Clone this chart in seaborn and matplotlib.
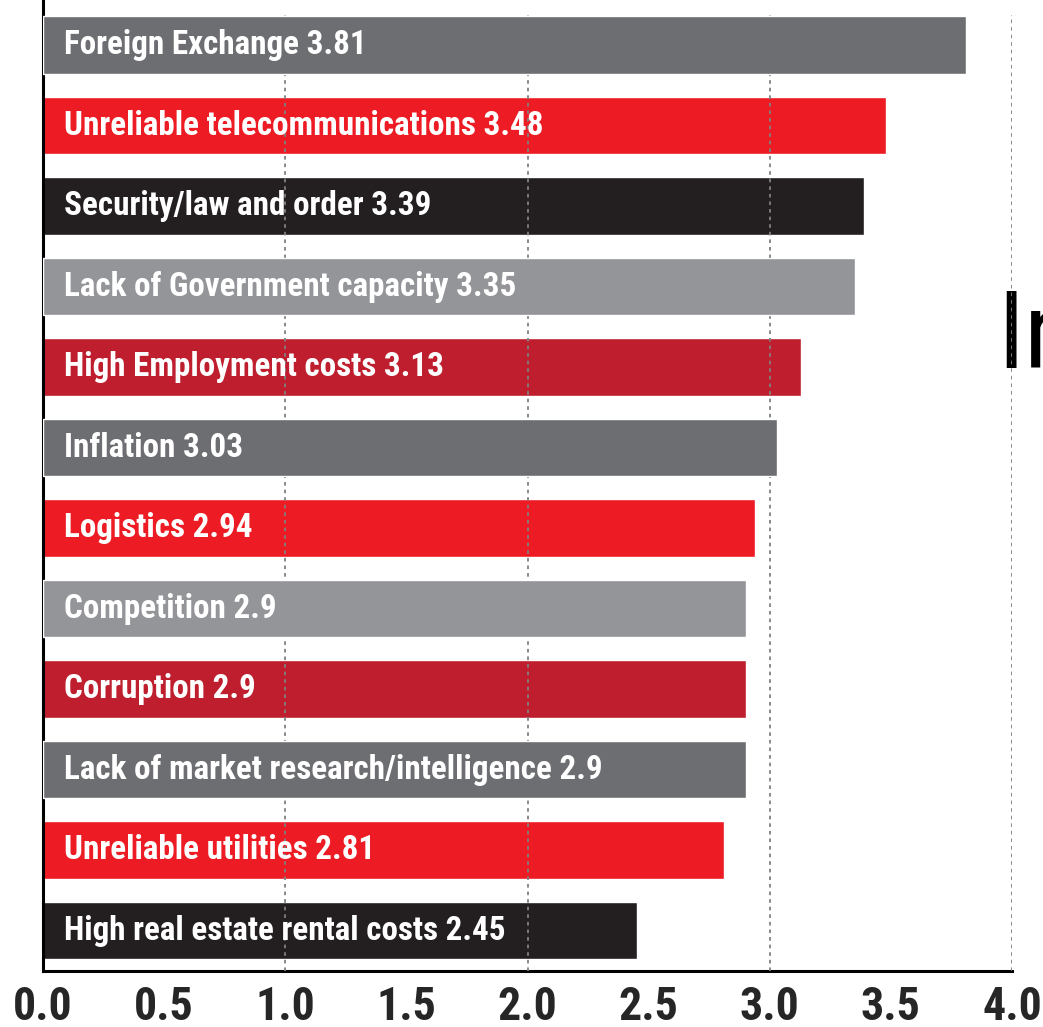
import matplotlib
matplotlib.use("Agg")
import matplotlib.pyplot as plt
import seaborn as sns
import pandas as pd

# Data
labels = ["Foreign Exchange", "Unreliable telecommunications", "Security/law and order",
          "Lack of Government capacity", "High Employment costs", "Inflation", "Logistics",
          "Competition", "Corruption", "Lack of market research/intelligence",
          "Unreliable utilities", "High real estate rental costs"]
values = [3.81, 3.48, 3.39, 3.35, 3.13, 3.03, 2.94, 2.9, 2.9, 2.9, 2.81, 2.45]
colors = ["#6d6e71", "#ed1c24", "#231f20", "#939598", "#be1e2d", "#6d6e71",
          "#ed1c24", "#939598", "#be1e2d", "#6d6e71", "#ed1c24", "#231f20"]
xticks = [0.0, 0.5, 1.0, 1.5, 2.0, 2.5, 3.0, 3.5, 4.0]
grid_x = [1.0, 2.0, 3.0, 4.0]
greys = {"#6d6e71", "#939598"}

df = pd.DataFrame({"label": labels, "value": values})

sns.set_style("white")
fam = ["Roboto Condensed", "Liberation Sans Narrow", "DejaVu Sans"]
plt.rcParams["font.family"] = fam
plt.rcParams["font.stretch"] = "condensed"

fig = plt.figure(figsize=(10.43, 10.27), dpi=100)
ax = fig.add_axes([43 / 1043, 56 / 1027, 969 / 1043, 971 / 1027])

sns.barplot(data=df, x="value", y="label", hue="label", palette=colors,
            legend=False, width=0.72, ax=ax, saturation=1, orient="h")

# grey bars sit above the dotted grid, the others below it
for p, c in zip(ax.patches, colors):
    p.set_zorder(4 if c in greys else 1)

# fit label size so the labels are about as wide as in the reference
renderer = fig.canvas.get_renderer()
probe = ax.text(0, 0, f"{labels[0]} {values[0]:g}", fontsize=22, fontweight="bold")
w = probe.get_window_extent(renderer).width
probe.remove()
lab_fs = 22 * 303 / w

for i, (lab, v) in enumerate(zip(labels, values)):
    ax.text(0.087, i, f"{lab} {v:g}", color="white", fontsize=lab_fs,
            fontweight="bold", va="center", ha="left", zorder=5)

for g in grid_x:
    ax.axvline(g, ymax=0.985, color="#808080", lw=1.3, ls=(0, (2, 2.2)), zorder=3)

ax.set_xlim(0, 4)
ax.set_ylim(11.503, -0.559)
ax.set_xticks(xticks)
ax.set_xticklabels([f"{t:.1f}" for t in xticks], fontsize=33, fontweight="bold")
ax.set_yticks([])
ax.set_xlabel("")
ax.set_ylabel("")
ax.tick_params(axis="x", direction="in", length=16.5, width=1.5, color="black", pad=10)
for s in ["top", "right"]:
    ax.spines[s].set_visible(False)
for s in ["left", "bottom"]:
    ax.spines[s].set_linewidth(2.2)
    ax.spines[s].set_color("black")

# clipped heading at the right edge
ax.text(997 / 1043, 1 - 368 / 1027, "In", fontsize=78, fontweight="normal",
        va="baseline", ha="left", color="black", transform=fig.transFigure,
        clip_on=False, zorder=2)

fig.savefig("out.png", dpi=100)
